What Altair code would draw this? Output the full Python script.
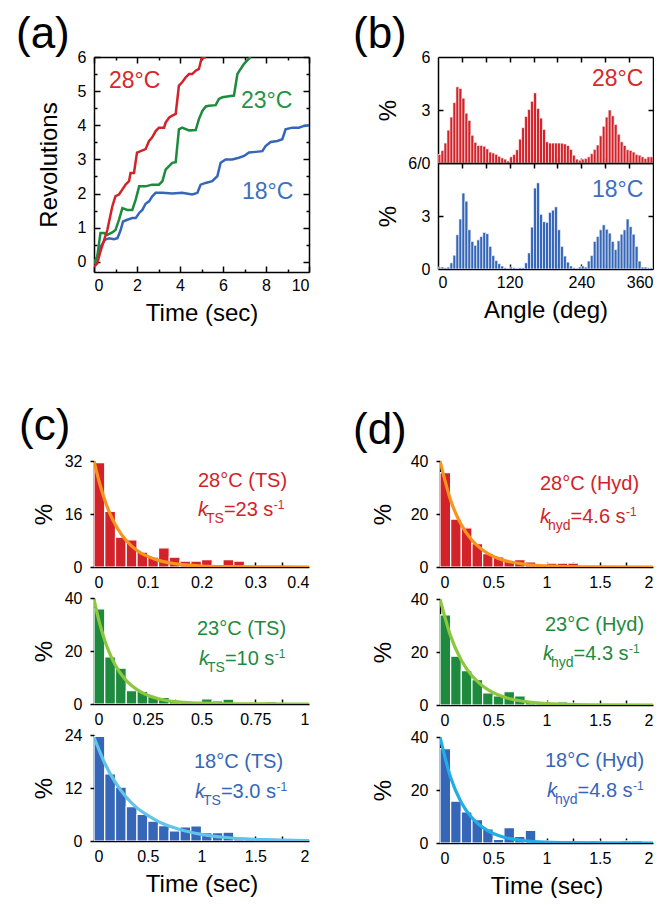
import altair as alt
import pandas as pd

FONT = "Liberation Sans"
RED = "#d2232a"
GREEN = "#1e8a3e"
BLUE = "#3566b8"
RED_T = "#d42a2a"
GREEN_T = "#24914a"
BLUE_T = "#3d6fc0"
ORANGE = "#f7941d"
LIME = "#8dc63f"
CYAN_TS = "#62c4e8"
CYAN_HYD = "#21aee6"

# ---------------- (a) rotation traces ----------------
a28_t = [0, 0.15, 0.3, 0.45, 0.62, 0.85, 1.0, 1.16, 1.3, 1.47, 1.63, 1.7, 1.86, 2.0, 2.17, 2.4, 2.56, 2.7, 2.87, 3.02,
         3.26, 3.33, 3.5, 3.64, 3.8, 3.95, 4.1, 4.26, 4.42, 4.57, 4.73, 4.88, 5.0, 5.2]
a28_r = [-0.15, -0.05, 0.3, 0.6, 0.93, 1.62, 1.92, 1.97, 2.1, 2.26, 2.36, 2.6, 2.6, 3.2, 3.24, 3.3, 3.54, 3.64, 3.83, 3.93,
         3.93, 4.08, 4.23, 4.28, 4.33, 5.16, 5.26, 5.4, 5.5, 5.5, 5.6, 5.65, 5.95, 6.0]
a23_t = [0, 0.15, 0.3, 0.47, 0.62, 0.85, 1.0, 1.16, 1.32, 1.55, 1.78, 1.94, 2.1, 2.4, 2.7, 3.02, 3.18, 3.33, 3.49, 3.64,
         3.8, 3.95, 4.1, 4.42, 4.73, 4.88, 5.04, 5.2, 5.35, 5.66, 5.81, 5.97, 6.28, 6.51, 6.67, 6.82, 6.98, 7.13, 7.29]
a23_r = [-0.05, 0.15, 0.84, 0.84, 0.79, 0.86, 0.93, 1.23, 1.57, 1.52, 1.52, 1.82, 2.21, 2.21, 2.26, 2.26, 2.36, 2.7, 2.8, 2.9,
         2.92, 3.88, 3.93, 3.85, 3.86, 4.18, 4.42, 4.55, 4.57, 4.59, 4.77, 4.82, 4.85, 4.87, 5.5, 5.65, 5.8, 5.9, 6.0]
a18_t = [0, 0.15, 0.31, 0.51, 0.7, 0.93, 1.09, 1.24, 1.35, 1.55, 1.78, 1.94, 2.1, 2.25, 2.4, 2.56, 2.71, 2.87, 3.18, 3.64,
         4.1, 4.57, 4.81, 4.96, 5.19, 5.5, 5.74, 5.89, 6.12, 6.43, 6.74, 6.98, 7.21, 7.52, 7.83, 7.98, 8.22, 8.53, 8.76, 8.91,
         9.22, 9.53, 9.77, 10.0]
a18_r = [-0.05, 0.15, 0.44, 0.64, 0.69, 0.66, 0.69, 0.93, 1.18, 1.23, 1.28, 1.28, 1.43, 1.52, 1.7, 1.77, 1.92, 2.02, 2.02, 2.0,
         2.02, 1.97, 2.02, 2.26, 2.31, 2.36, 2.51, 2.9, 3.0, 3.0, 3.05, 3.1, 3.2, 3.22, 3.24, 3.39, 3.51, 3.54, 3.59, 3.88,
         3.93, 3.93, 3.98, 4.0]

# ---------------- (b) angle histograms, 5-degree bins ----------------
b_width = 5
b28 = [0.48, 0.71, 1.13, 1.86, 2.6, 3.42, 4.31, 4.22, 3.67, 2.82,
       2.41, 1.57, 1.17, 0.99, 0.99, 0.95, 0.8, 0.62, 0.57, 0.49,
       0.38, 0.29, 0.22, 0.11, 0.35, 0.48, 0.75, 1.35, 2.0, 2.63,
       3.03, 3.49, 3.97, 3.09, 2.54, 1.9, 1.2, 1.13, 1.13, 1.13,
       1.13, 1.12, 1.08, 0.99, 0.77, 0.44, 0.22, 0.16, 0.22, 0.26,
       0.35, 0.53, 0.77, 1.02, 1.54, 2.08, 2.6, 3.0, 2.67, 2.18,
       1.63, 1.2, 0.99, 0.75, 0.71, 0.62, 0.49, 0.44, 0.35, 0.26,
       0.35, 0.35]
b18 = [0.11, 0.11, 0.07, 0.11, 0.35, 0.78, 1.94, 2.83, 4.3, 3.84,
       2.22, 1.56, 1.34, 1.65, 1.84, 2.07, 2.0, 1.28, 0.76, 0.48,
       0.3, 0.17, 0.07, 0.0, 0.11, 0.07, 0.04, 0.07, 0.07, 0.35,
       0.91, 2.37, 4.58, 4.88, 3.09, 2.68, 2.64, 3.2, 3.33, 3.52,
       2.22, 1.28, 0.73, 0.39, 0.17, 0.07, 0.04, 0.11, 0.17, 0.11,
       0.45, 0.76, 1.56, 1.84, 2.22, 2.5, 2.25, 2.03, 1.56, 1.1,
       1.6, 1.97, 2.22, 2.83, 2.4, 1.97, 1.28, 0.45, 0.11, 0.11,
       0.07, 0.07]

# ---------------- (c) TS dwell histograms ----------------
c28 = [31.5, 16.8, 9.0, 8.2, 4.5, 3.0, 5.8, 3.0, 1.8, 1.8, 2.2, 0.8, 2.2, 1.8, 0, 0, 0, 0, 0, 0]       # 0.02 s bins
c23 = [35.9, 17.8, 13.5, 5.0, 4.8, 2.8, 2.5, 1.5, 0.6, 0.3, 1.9, 1.2, 1.8, 0.4, 0.2, 0.2, 0.8, 0.3, 0.2, 0.1]  # 0.05 s
c18 = [23.7, 15.2, 12.2, 7.8, 6.0, 4.5, 3.5, 2.3, 3.2, 3.4, 1.9, 1.9, 2.0, 0.9, 0.5, 0.5, 0.5, 0.3, 0.3, 0.3]  # 0.1 s
c28_fit_t = [0, 0.01, 0.02, 0.03, 0.04, 0.05, 0.06, 0.08, 0.1, 0.12, 0.15, 0.2, 0.25, 0.3, 0.4]
c28_fit_v = [32, 25.5, 20.2, 16.0, 12.7, 10.1, 8.0, 5.0, 3.2, 2.0, 1.0, 0.3, 0.1, 0.03, 0]
c23_fit_t = [0, 0.025, 0.05, 0.075, 0.1, 0.15, 0.2, 0.25, 0.3, 0.4, 0.5, 0.6, 0.8, 1.0]
c23_fit_v = [39.5, 30.8, 24.0, 18.7, 14.5, 8.8, 5.4, 3.3, 2.0, 0.7, 0.3, 0.1, 0.02, 0]
c18_fit_t = [0, 0.1, 0.2, 0.3, 0.4, 0.5, 0.6, 0.8, 1.0, 1.2, 1.4, 1.6, 2.0]
c18_fit_v = [23.5, 17.6, 13.2, 9.9, 7.5, 5.8, 4.4, 2.6, 1.5, 0.85, 0.5, 0.3, 0.08]

# ---------------- (d) hydrolysis dwell histograms (0.1 s bins) ----------------
d28 = [35.6, 18.1, 14.8, 8.8, 5.0, 3.8, 2.5, 2.8, 1.9, 1.0, 1.5, 1.5, 1.5, 0.4, 0.2, 0.2, 0.2, 0.2, 0.2, 0.2]
d23 = [34.0, 18.4, 13.0, 9.6, 4.6, 3.4, 5.0, 3.4, 1.5, 1.2, 1.1, 1.2, 0.7, 0.5, 0.3, 0.3, 0.3, 0.3, 0.3, 0.3]
d18 = [35.6, 15.8, 11.7, 8.8, 5.3, 1.4, 5.8, 2.5, 4.8, 0.8, 0.8, 0.8, 0.3, 0.3, 0.8, 0.3, 0.3, 0.8, 0.8, 0.3]
d_fit_t = [0, 0.1, 0.2, 0.3, 0.4, 0.5, 0.6, 0.8, 1.0, 1.2, 1.5, 2.0]
d28_fit_v = [40, 25.2, 15.9, 10.1, 6.4, 4.0, 2.5, 1.0, 0.4, 0.16, 0.04, 0]
d23_fit_v = [40, 26.0, 16.9, 11.0, 7.2, 4.7, 3.0, 1.3, 0.54, 0.23, 0.06, 0]
d18_fit_v = [40, 24.7, 15.3, 9.5, 5.9, 3.6, 2.2, 0.86, 0.33, 0.13, 0.03, 0]

# =====================================================================
ONE = pd.DataFrame({"o": [0]})
AW = {"k": 0.5, "T": 0.611, "S": 0.667, "h": 0.556, "y": 0.5, "d": 0.556, "=": 0.584, ".": 0.278,
      " ": 0.278, "s": 0.5, "-": 0.333}
for _c in "0123456789":
    AW[_c] = 0.556

PANEL_FS = 44


def tw(s, size):
    return sum(AW[c] for c in s) * size


def sc(dom):
    return alt.Scale(domain=list(dom), nice=False, zero=False)


def txt(s, x, y, size, color, style="normal", align="left"):
    return alt.Chart(ONE).mark_text(text=s, font=FONT, fontSize=size, fontStyle=style, color=color,
                                    align=align, baseline="alphabetic").encode(x=alt.value(x), y=alt.value(y))


def rate(x0, y0, sub, val, color):
    out = [txt("k", x0, y0, 20, color, "italic")]
    x = x0 + 8
    out.append(txt(sub, x, y0 + 7, 14, color))
    x += tw(sub, 14)
    rest = "=" + val + " s"
    out.append(txt(rest, x, y0, 20, color))
    x += tw(rest, 20)
    out.append(txt("-1", x + 0.5, y0 - 7, 12, color))
    return out


def guide(xdom, ydom, xaxis, yaxis):
    df = pd.DataFrame({"gx": list(xdom), "gy": list(ydom)})
    return alt.Chart(df).mark_point(opacity=0, size=1).encode(
        x=alt.X("gx:Q", scale=sc(xdom), axis=xaxis),
        y=alt.Y("gy:Q", scale=sc(ydom), axis=yaxis),
    )


def in_ticks(orient, values, size):
    return alt.Axis(orient=orient, values=values, labels=False, ticks=True, tickSize=size, offset=-size,
                    domain=False, grid=False, title=None)


def frame(orient):
    return alt.Axis(orient=orient, labels=False, ticks=False, tickSize=0, domain=True, grid=False, title=None)


def lab_axis(orient, values, title, pad, tpad, extent=None, tick=0, expr="'' + datum.value"):
    kw = dict(orient=orient, values=values, labels=True, domain=True, grid=False,
              labelPadding=pad, titlePadding=tpad, title=title, labelExpr=expr)
    if tick > 0:
        kw["ticks"] = True
        kw["tickSize"] = tick
    else:
        kw["ticks"] = False
        kw["tickSize"] = 0
    if extent is not None:
        kw["minExtent"] = extent
        kw["maxExtent"] = extent
    return alt.Axis(**kw)


def line_layer(t, v, color, xdom, ydom, width=2.5, interp="linear"):
    df = pd.DataFrame({"t": t, "v": v})
    return alt.Chart(df).mark_line(color=color, strokeWidth=width, clip=True, interpolate=interp).encode(
        x=alt.X("t:Q", scale=sc(xdom), axis=None),
        y=alt.Y("v:Q", scale=sc(ydom), axis=None),
    )


def bar_layer(vals, width, color, xdom, ydom, sw=1.0):
    lo = [i * width for i in range(len(vals))]
    hi = [(i + 1) * width for i in range(len(vals))]
    df = pd.DataFrame({"lo": lo, "hi": hi, "v": vals})
    return alt.Chart(df).mark_bar(color=color, stroke="white", strokeWidth=sw, clip=True).encode(
        x=alt.X("lo:Q", scale=sc(xdom), axis=None),
        x2="hi:Q",
        y=alt.Y("v:Q", scale=sc(ydom), axis=None),
        y2=alt.datum(0),
    )


# ---------------- panel (a) ----------------
AX = (0, 10)
AY = (-0.3, 6)
a_layers = [
    line_layer(a18_t, a18_r, BLUE, AX, AY),
    line_layer(a23_t, a23_r, GREEN, AX, AY),
    line_layer(a28_t, a28_r, RED, AX, AY),
    txt("28°C", 15, 31, 23, RED_T),
    txt("23°C", 147, 51, 23, GREEN_T),
    txt("18°C", 148, 142, 23, BLUE_T),
    txt("(a)", -78, -9, PANEL_FS, "black"),
    guide(AX, AY, lab_axis("bottom", [0, 2, 4, 6, 8, 10], "Time (sec)", 5, 8),
          lab_axis("left", [0, 1, 2, 3, 4, 5, 6], "Revolutions", 8, 13, extent=20)),
    guide(AX, AY, frame("top"), frame("right")),
    guide(AX, AY, in_ticks("bottom", [0, 2, 4, 6, 8, 10], 6), in_ticks("left", [0, 1, 2, 3, 4, 5, 6], 6)),
    guide(AX, AY, in_ticks("top", [0, 2, 4, 6, 8, 10], 6), in_ticks("right", [0, 1, 2, 3, 4, 5, 6], 6)),
    guide(AX, AY, in_ticks("bottom", [1, 3, 5, 7, 9], 3), in_ticks("left", [0.5, 1.5, 2.5, 3.5, 4.5, 5.5], 3)),
    guide(AX, AY, in_ticks("top", [1, 3, 5, 7, 9], 3), in_ticks("right", [0.5, 1.5, 2.5, 3.5, 4.5, 5.5], 3)),
]
panel_a = alt.layer(*a_layers).resolve_axis(x="independent", y="independent").properties(width=215, height=215)

# ---------------- panel (b) ----------------
BX = (0, 360)
BY = (0, 6)
b_minor = [40, 80, 120, 160, 200, 240, 280, 320]
b_top_layers = [
    bar_layer(b28, b_width, RED, BX, BY, sw=0.6),
    txt("28°C", 154, 29, 23, RED_T),
    txt("(b)", -85, -9, PANEL_FS, "black"),
    guide(BX, BY, frame("bottom"), lab_axis("left", [3, 6], "%", 8, 16, extent=22)),
    guide(BX, BY, frame("top"), frame("right")),
    guide(BX, BY, in_ticks("bottom", b_minor, 5), in_ticks("left", [3], 5)),
    guide(BX, BY, in_ticks("top", b_minor, 5), in_ticks("right", [3], 5)),
]
b_bot_layers = [
    bar_layer(b18, b_width, BLUE, BX, BY, sw=0.6),
    txt("18°C", 154, 34, 23, BLUE_T),
    guide(BX, BY, lab_axis("bottom", [0, 120, 240, 360], "Angle (deg)", 5, 8),
          lab_axis("left", [0, 3, 6], "%", 8, 16, extent=22, expr="datum.value == 6 ? '6/0' : '' + datum.value")),
    guide(BX, BY, frame("top"), frame("right")),
    guide(BX, BY, in_ticks("bottom", b_minor, 5), in_ticks("left", [3], 5)),
    guide(BX, BY, in_ticks("top", b_minor, 5), in_ticks("right", [3], 5)),
]
b_top = alt.layer(*b_top_layers).resolve_axis(x="independent", y="independent").properties(width=215, height=106)
b_bot = alt.layer(*b_bot_layers).resolve_axis(x="independent", y="independent").properties(width=215, height=106)
b_col = alt.vconcat(b_top, b_bot, spacing=0, bounds="flush")


# ---------------- panels (c) & (d) ----------------
def hist_panel(vals, bw, bar_color, fit_t, fit_v, fit_color, xdom, ydom, xlabels, xticks, ylabels,
               xtitle, head, sub, val, tx, ty, kx, ky, label, extent, tpad, w, h, xtpad=8):
    layers = [
        bar_layer(vals, bw, bar_color, xdom, ydom, sw=1.2),
        line_layer(fit_t, fit_v, fit_color, xdom, ydom, width=3.2, interp="monotone"),
        txt(head, tx, ty, 20, bar_color),
    ]
    layers += rate(kx, ky, sub, val, bar_color)
    if label is not None:
        layers.append(txt(label[0], label[1], label[2], PANEL_FS, "black"))
    layers.append(guide(xdom, ydom, lab_axis("bottom", xlabels, xtitle, 7, xtpad),
                        lab_axis("left", ylabels, "%", 8, tpad, extent=extent, tick=4)))
    layers.append(guide(xdom, ydom, in_ticks("bottom", xticks, 5), None))
    return alt.layer(*layers).resolve_axis(x="independent", y="independent").properties(width=w, height=h)


c1 = hist_panel(c28, 0.02, RED, c28_fit_t, c28_fit_v, ORANGE, (0, 0.4), (0, 32),
                [0, 0.1, 0.2, 0.3, 0.4], [0.05, 0.1, 0.15, 0.2, 0.25, 0.3, 0.35], [0, 16, 32],
                None, "28°C (TS)", "TS", "23", 104, 26, 104, 55, ("(c)", -75, -21), 26, 12, 215, 106)
c2 = hist_panel(c23, 0.05, GREEN, c23_fit_t, c23_fit_v, LIME, (0, 1), (0, 40),
                [0, 0.25, 0.5, 0.75, 1], [0.125, 0.25, 0.375, 0.5, 0.625, 0.75, 0.875], [0, 20, 40],
                None, "23°C (TS)", "TS", "10", 103, 37, 105, 67, None, 26, 12, 215, 106)
c3 = hist_panel(c18, 0.1, BLUE, c18_fit_t, c18_fit_v, CYAN_TS, (0, 2), (0, 24),
                [0, 0.5, 1, 1.5, 2], [0.25, 0.5, 0.75, 1, 1.25, 1.5, 1.75], [0, 12, 24],
                "Time (sec)", "18°C (TS)", "TS", "3.0", 100, 33, 101, 63, None, 26, 12, 215, 106, xtpad=8)
d1 = hist_panel(d28, 0.1, RED, d_fit_t, d28_fit_v, ORANGE, (0, 2), (0, 40),
                [0, 0.5, 1, 1.5, 2], [0.25, 0.5, 0.75, 1, 1.25, 1.5, 1.75], [0, 20, 40],
                None, "28°C (Hyd)", "hyd", "4.6", 100, 29, 100, 62, ("(d)", -87, -17), 30, 15, 213, 106)
d2 = hist_panel(d23, 0.1, GREEN, d_fit_t, d23_fit_v, LIME, (0, 2), (0, 40),
                [0, 0.5, 1, 1.5, 2], [0.25, 0.5, 0.75, 1, 1.25, 1.5, 1.75], [0, 20, 40],
                None, "23°C (Hyd)", "hyd", "4.3", 105, 32, 103, 61, None, 30, 15, 213, 106)
d3 = hist_panel(d18, 0.1, BLUE, d_fit_t, d18_fit_v, CYAN_HYD, (0, 2), (0, 40),
                [0, 0.5, 1, 1.5, 2], [0.25, 0.5, 0.75, 1, 1.25, 1.5, 1.75], [0, 20, 40],
                "Time (sec)", "18°C (Hyd)", "hyd", "4.8", 105, 30, 107, 60, None, 30, 15, 213, 106, xtpad=8)

c_col = alt.vconcat(c1, c2, c3, spacing=31, bounds="flush")
d_col = alt.vconcat(d1, d2, d3, spacing=32, bounds="flush")

row1 = alt.hconcat(panel_a, b_col, spacing=43)
row2 = alt.hconcat(c_col, d_col, spacing=43)

chart = alt.vconcat(row1, row2, spacing=80).properties(
    padding={"left": 8, "top": 5, "right": 0, "bottom": 0}
).configure_view(strokeWidth=0).configure_axis(
    labelFont=FONT, labelFontSize=16, labelColor="black",
    titleFont=FONT, titleFontSize=24, titleFontWeight="normal", titleColor="black",
    domainColor="black", domainWidth=1.5, tickColor="black", tickWidth=1.5,
)

chart.save("out.html", embed_options={"renderer": "svg", "actions": False})
